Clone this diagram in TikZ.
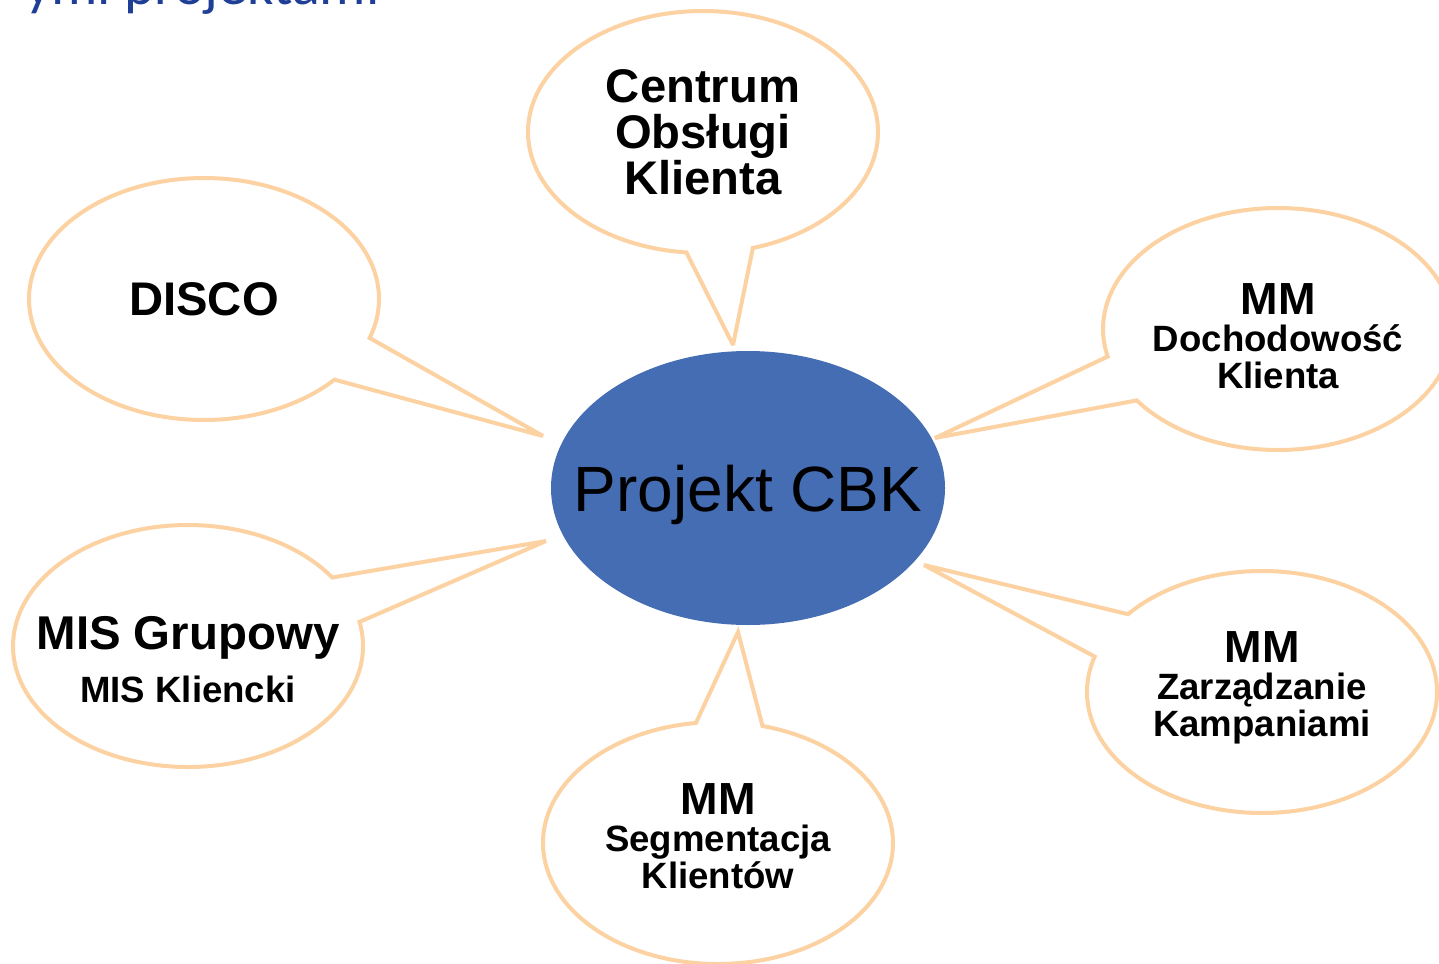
\documentclass[tikz,border=0pt]{standalone}
\usepackage{fontspec}
\setmainfont{Liberation Sans}
\newfontfamily\titlefont{Carlito}
\usetikzlibrary{shapes.callouts,shapes.geometric}
\definecolor{bubbleline}{HTML}{FCD2A2}
\definecolor{hubblue}{HTML}{456DB4}
\definecolor{titleblue}{HTML}{1F3E96}
% invisible struts that move a bubble's text down (extra height) or up (extra depth)
\newcommand{\lowerby}[1]{\rule{0pt}{#1}}
\newcommand{\raiseby}[1]{\rule[-#1]{0pt}{0pt}}
\begin{document}
\begin{tikzpicture}[x=0.5pt,y=-0.5pt,
  bubble/.style={ellipse callout, draw=bubbleline, line width=2pt, fill=white,
    line join=miter, miter limit=3,
    inner sep=0pt, inner xsep=-20pt, outer sep=0pt,
    minimum width=175pt, minimum height=121pt, align=center, text=black,
    font=\bfseries\fontsize{18.3}{18.5}\selectfont},
  side/.style={callout pointer arc=23},
  vert/.style={callout pointer arc=22},
  big/.style={font=\bfseries\fontsize{23.6}{23}\selectfont},
  hub/.style={ellipse, fill=hubblue, inner sep=0pt, inner xsep=-20pt, outer sep=0pt,
    minimum width=197pt, minimum height=137pt, text depth=0pt,
    font=\fontsize{32}{36}\selectfont}]
\useasboundingbox (0,0) rectangle (1439,963);
\clip (0,0) rectangle (1439,963);

% heading, mostly outside the frame
\node[anchor=base east, inner sep=0pt, text=titleblue,
  font=\titlefont\fontsize{29}{36}\selectfont] (title) at (380,5) {ymi projektami};

% central project
\node[hub] (cbk) at (748,488) {Projekt CBK};

% where each speech bubble points
\coordinate (tipCOK)  at (733,345);
\coordinate (tipDisco) at (543,436);
\coordinate (tipDoch) at (935,438);
\coordinate (tipMis)  at (546,541);
\coordinate (tipSeg)  at (738,632);
\coordinate (tipZarz) at (924,565);

\node[bubble, vert, big, callout absolute pointer={(tipCOK)}] (cok) at (703,132)
  {Centrum\\Obsługi\\Klienta};
\node[bubble, side, big, text depth=0pt, callout absolute pointer={(tipDisco)}] (disco) at (204,299)
  {DISCO};
\node[bubble, side, callout absolute pointer={(tipDoch)}] (doch) at (1278,329)
  {{\fontsize{22.5}{18.5}\selectfont\lowerby{23.1pt}MM}\\Dochodowość\\Klienta};
\node[bubble, side, callout absolute pointer={(tipMis)}] (mis) at (188,646)
  {{\fontsize{23.7}{26.5}\selectfont\lowerby{30.3pt}MIS Grupowy}\\[8pt]MIS Kliencki};
\node[bubble, vert, callout absolute pointer={(tipSeg)}] (seg) at (718,843)
  {{\fontsize{22.5}{18.5}\selectfont MM}\\Segmentacja\\Klientów\raiseby{7pt}};
\node[bubble, side, callout absolute pointer={(tipZarz)}] (zarz) at (1262,692)
  {{\fontsize{22.5}{18.5}\selectfont MM}\\Zarządzanie\\Kampaniami\raiseby{7.8pt}};
\end{tikzpicture}
\end{document}
